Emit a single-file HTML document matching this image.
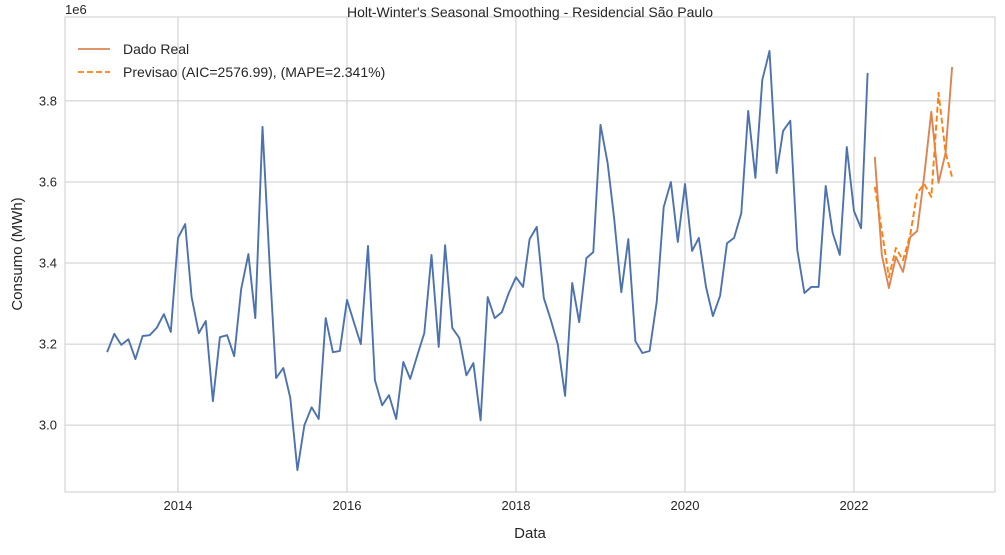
<!DOCTYPE html>
<html><head><meta charset="utf-8"><style>
body{margin:0;background:#fff;font-family:"Liberation Sans","DejaVu Sans",sans-serif}
svg text{font-family:"Liberation Sans","DejaVu Sans",sans-serif;fill:#262626}
</style></head><body>
<svg id="chart" width="1005" height="550" viewBox="0 0 1005 550">
<g id="grid"></g>
<rect x="65" y="17" width="930" height="475" fill="none" stroke="#cccccc" stroke-width="1"/>
<g id="series"></g>
<g id="ticks"></g>
<text x="530" y="17" text-anchor="middle" font-size="14">Holt-Winter's Seasonal Smoothing - Residencial São Paulo</text>
<text x="65" y="14" font-size="13">1e6</text>
<text x="530" y="538" text-anchor="middle" font-size="15">Data</text>
<text transform="translate(22,254) rotate(-90)" text-anchor="middle" font-size="15">Consumo (MWh)</text>
<g>
<line x1="78" y1="49" x2="110" y2="49" stroke="#dd8452" stroke-width="1.8"/>
<text x="123" y="54" font-size="14">Dado Real</text>
<line x1="78" y1="72" x2="110" y2="72" stroke="#ff7f0e" stroke-width="1.8" stroke-dasharray="6,3"/>
<text x="123" y="77" font-size="14">Previsao (AIC=2576.99), (MAPE=2.341%)</text>
</g>
</svg>
<script>
const histValues=[3.180,3.225,3.198,3.212,3.163,3.220,3.222,3.240,3.274,3.230,3.462,3.496,3.316,3.227,3.257,3.059,3.217,3.222,3.170,3.336,3.422,3.264,3.736,3.393,3.116,3.141,3.067,2.889,3.000,3.044,3.015,3.264,3.180,3.183,3.309,
3.252,3.200,3.442,3.111,3.049,3.074,3.015,3.156,3.114,3.173,3.227,3.420,3.193,3.444,3.240,3.215,3.123,3.153,3.012,3.316,3.264,3.279,3.326,3.365,3.341,3.459,3.489,3.314,3.259,3.198,3.072,3.351,3.254,3.412,3.427,3.741,
3.647,3.511,3.328,3.459,3.207,3.178,3.183,3.304,3.538,3.600,3.452,3.595,3.430,3.462,3.341,3.269,3.319,3.449,3.462,3.523,3.775,3.610,3.852,3.923,3.622,3.726,3.751,3.432,3.326,3.341,3.341,3.590,3.474,3.420,3.686,3.528,3.486,3.869];
const realValues=[3.662,3.420,3.338,3.415,3.378,3.464,3.479,3.617,3.773,3.598,3.672,3.884];
const forecastValues=[3.588,3.481,3.365,3.437,3.407,3.469,3.573,3.595,3.563,3.820,3.672,3.612];
const histStart=[2013,3];
const testStart=[2022,4];
const xTickLabels=["2014","2016","2018","2020","2022"];
const yTickLabels=["3.0","3.2","3.4","3.6","3.8"];
const L=65,R=995,T=17,B=492,X0=2012.663,X1=2023.669,Y0=2.835,Y1=4.007;
const NS="http://www.w3.org/2000/svg";
const xs=t=>L+(t-X0)/(X1-X0)*(R-L);
const ys=v=>B-(v-Y0)/(Y1-Y0)*(B-T);
function monthT(y,m){const d=Date.UTC(y,m-1,1),s=Date.UTC(y,0,1),e=Date.UTC(y+1,0,1);return y+(d-s)/(e-s);}
function tOf(start,i){let m=start[1]-1+i;return monthT(start[0]+Math.floor(m/12),m%12+1);}
const grid=document.getElementById('grid'),ticks=document.getElementById('ticks'),series=document.getElementById('series');
xTickLabels.forEach(l=>{const x=xs(+l);
const g=document.createElementNS(NS,'line');


g.setAttribute('x1',x);g.setAttribute('x2',x);g.setAttribute('y1',T);g.setAttribute('y2',B);g.setAttribute('stroke','#cccccc');grid.appendChild(g);
const t=document.createElementNS(NS,'text');


t.setAttribute('x',x);t.setAttribute('y',B+18);t.setAttribute('text-anchor','middle');t.setAttribute('font-size','13');t.textContent=l;ticks.appendChild(t);});
yTickLabels.forEach(l=>{const y=ys(+l);
const g=document.createElementNS(NS,'line');


g.setAttribute('x1',L);g.setAttribute('x2',R);g.setAttribute('y1',y);g.setAttribute('y2',y);g.setAttribute('stroke','#cccccc');grid.appendChild(g);
const t=document.createElementNS(NS,'text');


t.setAttribute('x',L-8);t.setAttribute('y',y+4.5);t.setAttribute('text-anchor','end');t.setAttribute('font-size','13');t.textContent=l;ticks.appendChild(t);});
function line(vals,start,color,dash,name){
const p=document.createElementNS(NS,'polyline');


p.setAttribute('points',vals.map((v,i)=>xs(tOf(start,i)).toFixed(1)+','+ys(v).toFixed(1)).join(' '));
p.setAttribute('fill','none');p.setAttribute('stroke',color);p.setAttribute('stroke-width','1.9');p.setAttribute('stroke-linejoin','round');
if(dash)p.setAttribute('stroke-dasharray',dash);series.appendChild(p);}
line(histValues,histStart,'#4c72b0',null,'history-line');
line(realValues,testStart,'#dd8452',null,'real-line');
line(forecastValues,testStart,'#ff7f0e','6,3','forecast-line');
</script>
</body></html>
